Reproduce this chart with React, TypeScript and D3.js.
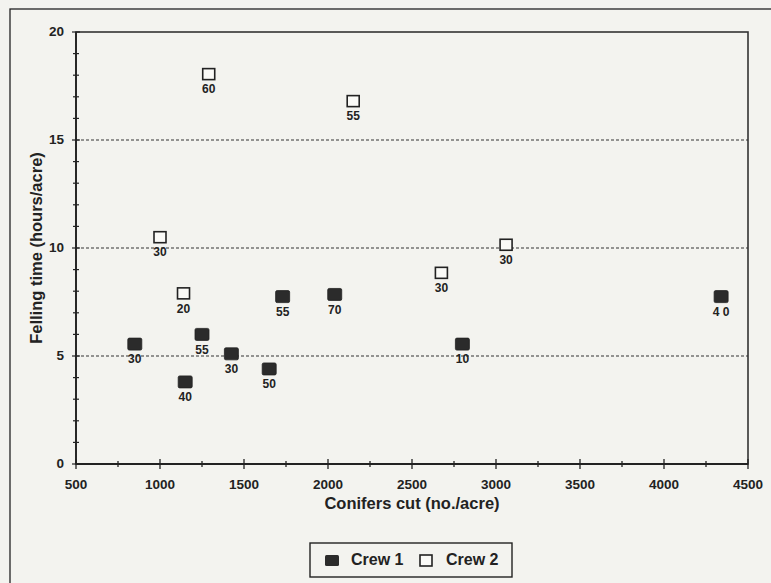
import React from "react";
import * as d3 from "d3";

const crew1X = [850, 1150, 1250, 1425, 1650, 1730, 2040, 2800, 4340];
const crew1Y = [5.55, 3.8, 6.0, 5.1, 4.4, 7.75, 7.85, 5.55, 7.75];
const crew1Labels = ["30", "40", "55", "30", "50", "55", "70", "10", "4 0"];

const crew2X = [1290, 2150, 1000, 1140, 2675, 3060];
const crew2Y = [18.05, 16.8, 10.5, 7.9, 8.85, 10.15];
const crew2Labels = ["60", "55", "30", "20", "30", "30"];

const xTicks = [500, 1000, 1500, 2000, 2500, 3000, 3500, 4000, 4500];
const yTicks = [0, 5, 10, 15, 20];
const gridLines = [5, 10, 15];

const W = 771;
const H = 583;
const FONT = "'Liberation Sans', Arial, Helvetica, sans-serif";
const INK = "#222";

export default function App() {
  const x = d3.scaleLinear().domain([500, 4500]).range([76, 748]);
  const y = d3.scaleLinear().domain([0, 20]).range([464, 32]);
  const xMinor = d3.range(500, 4501, 250);
  const yMinor = d3.range(0, 21, 1);
  const sqW = 14;
  const sqH = 12;

  return (
    <svg
      width={W}
      height={H}
      style={{ position: "absolute", left: 0, top: 0, background: "#f3f3ef" }}
      fontFamily={FONT}
    >
      <rect x={0} y={0} width={W} height={H} fill="#f3f3ef" />
      {/* outer border */}
      <rect x={10} y={9} width={W} height={H} fill="none" stroke={INK} strokeWidth={1.3} />
      {/* plot frame */}
      <rect x={x(500)} y={y(20)} width={x(4500) - x(500)} height={y(0) - y(20)} fill="none" stroke="#333" strokeWidth={1.6} />
      {/* gridlines */}
      {gridLines.map((g) => (
        <line key={g} x1={x(500)} x2={x(4500)} y1={y(g)} y2={y(g)} stroke="#333" strokeWidth={1.1} strokeDasharray="3,2" />
      ))}
      {/* axes */}
      <line x1={x(500)} x2={x(4500)} y1={y(0)} y2={y(0)} stroke={INK} strokeWidth={1.8} />
      <line x1={x(500)} x2={x(500)} y1={y(0)} y2={y(20)} stroke={INK} strokeWidth={1.8} />
      {xMinor.map((v) => {
        const major = v % 500 === 0;
        return (
          <line key={"xt" + v} x1={x(v)} x2={x(v)} y1={y(0) - (major ? 5 : 3)} y2={y(0) + (major ? 5 : 3)} stroke={INK} strokeWidth={1.3} />
        );
      })}
      {yMinor.map((v) => {
        const major = v % 5 === 0;
        return (
          <line key={"yt" + v} x1={x(500) - (major ? 4 : 3)} x2={x(500) + (major ? 4 : 3)} y1={y(v)} y2={y(v)} stroke={INK} strokeWidth={1.2} />
        );
      })}
      {xTicks.map((v) => (
        <text key={"xl" + v} x={x(v)} y={y(0) + 21} fontSize={13.5} fontWeight="bold" textAnchor="middle" dominantBaseline="middle" fill={INK}>
          {v}
        </text>
      ))}
      {yTicks.map((v) => (
        <text key={"yl" + v} x={64} y={y(v)} fontSize={13.5} fontWeight="bold" textAnchor="end" dominantBaseline="middle" fill={INK}>
          {v}
        </text>
      ))}
      {/* axis titles */}
      <text x={412} y={505} fontSize={16.5} fontWeight="bold" textAnchor="middle" dominantBaseline="middle" fill={INK}>
        Conifers cut (no./acre)
      </text>
      <text
        transform={`translate(38,${(y(0) + y(20)) / 2}) rotate(-90)`}
        fontSize={16.5}
        fontWeight="bold"
        textAnchor="middle"
        dominantBaseline="middle"
        fill={INK}
      >
        Felling time (hours/acre)
      </text>
      {/* crew 1 */}
      {crew1X.map((v, i) => (
        <g key={"c1" + i}>
          <rect x={x(v) - sqW / 2} y={y(crew1Y[i]) - sqH / 2} width={sqW} height={sqH} rx={1.5} fill="#2b2b2b" stroke="#222" strokeWidth={0.8} />
          <text x={x(v)} y={y(crew1Y[i]) + 16} fontSize={12} fontWeight="bold" textAnchor="middle" dominantBaseline="middle" fill={INK}>
            {crew1Labels[i]}
          </text>
        </g>
      ))}
      {/* crew 2 */}
      {crew2X.map((v, i) => (
        <g key={"c2" + i}>
          <rect x={x(v) - (sqW - 2) / 2} y={y(crew2Y[i]) - (sqH - 1) / 2} width={sqW - 2} height={sqH - 1} fill="#fafaf7" stroke="#222" strokeWidth={1.6} />
          <text x={x(v)} y={y(crew2Y[i]) + 16} fontSize={12} fontWeight="bold" textAnchor="middle" dominantBaseline="middle" fill={INK}>
            {crew2Labels[i]}
          </text>
        </g>
      ))}
      {/* legend */}
      <rect x={310} y={543} width={202} height={34} fill="none" stroke={INK} strokeWidth={1.4} />
      <rect x={325} y={555} width={14} height={11} rx={1.5} fill="#2b2b2b" />
      <text x={351} y={561} fontSize={16} fontWeight="bold" dominantBaseline="middle" fill={INK}>
        Crew 1
      </text>
      <rect x={420} y={555} width={12} height={11} fill="#fafaf7" stroke="#222" strokeWidth={1.6} />
      <text x={446} y={561} fontSize={16} fontWeight="bold" dominantBaseline="middle" fill={INK}>
        Crew 2
      </text>
    </svg>
  );
}
